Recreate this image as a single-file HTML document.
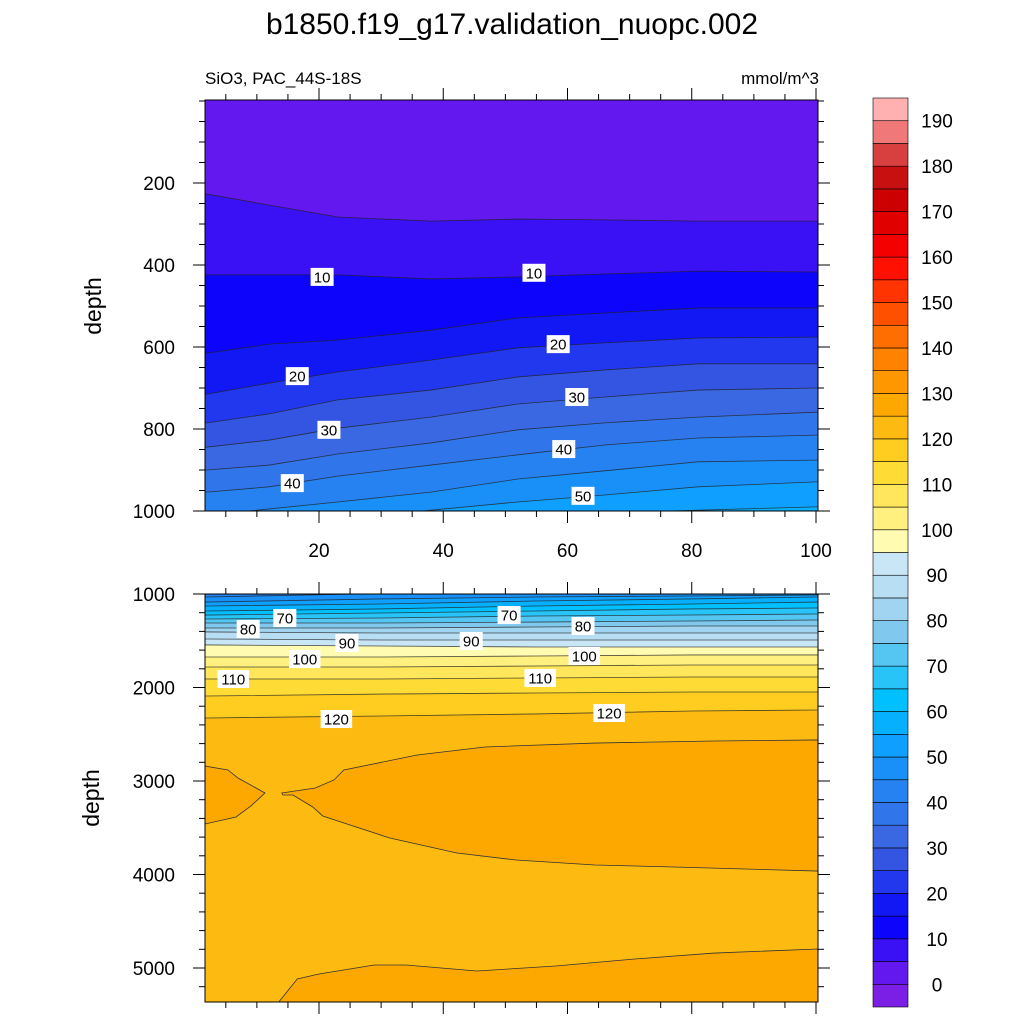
<!DOCTYPE html>
<html><head><meta charset="utf-8">
<style>
html,body{margin:0;padding:0;background:#fff;}
svg{display:block;font-family:"Liberation Sans",sans-serif;}
</style></head>
<body>
<svg id="chart" width="1024" height="1024" viewBox="0 0 1024 1024" xmlns="http://www.w3.org/2000/svg">
<text x="512" y="34" font-size="30" text-anchor="middle">b1850.f19_g17.validation_nuopc.002</text>
<text x="205" y="84" font-size="17">SiO3, PAC_44S-18S</text>
<text x="819" y="84" font-size="17" text-anchor="end">mmol/m^3</text>
<text transform="translate(101,306) rotate(-90)" font-size="23" text-anchor="middle">depth</text>
<text transform="translate(99,798) rotate(-90)" font-size="23" text-anchor="middle">depth</text>
<g id="top"></g>
<g id="bot"></g>
<g id="cbar"></g>
</svg>
<script>
const NS="http://www.w3.org/2000/svg";
const colors=["#7b1fe6","#6318f0","#3a10f5","#0c04fb","#1218f3","#2238ee","#3355e2","#3a68e2","#3075ea","#2582f0","#1890f8","#0fa0ff","#07b0ff","#00c0ff","#28c4f8","#55c5f2","#80c8ee","#a0d4f0","#b8def4","#c8e6f6","#fffbb0","#fff080","#ffe65a","#ffdc35","#ffcd20","#fdbb12","#fca800","#ff9800","#ff8200","#ff6e00","#ff5000","#ff3400","#ff1000","#f40000","#e00000","#cc0000","#c81010","#d84040","#f07878","#ffb0b0"];
const cbarLabels=[0,10,20,30,40,50,60,70,80,90,100,110,120,130,140,150,160,170,180,190];
// top panel
const topXs=[2,12,23,38,52,66,81,100];
const topLevels=[5,10,15,20,25,30,35,40,45,50,55];
const topDepths=[
[227,254,283,293,288,290,293,293],
[424,424,424,434,429,422,415,417],
[615,593,583,559,529,517,505,505],
[715,688,661,632,602,590,578,576],
[785,763,729,705,673,656,641,641],
[844,827,798,771,739,722,705,700],
[900,888,861,834,802,785,771,759],
[954,941,915,888,863,839,822,815],
[1010,995,978,954,922,902,880,876],
[1070,1046,1022,998,978,961,941,929],
[1120,1107,1090,1071,1034,1005,998,990]];
const topLabels=[["10",20.5,429],["10",54.6,419],["20",16.5,671],["20",58.5,593],["30",21.6,802],["30",61.5,722],["40",15.7,932],["40",59.4,849],["50",62.5,963]];
// bottom panel
const botXs=[2,30,55,80,100];
const botLevels=[45,50,55,60,65,70,75,80,85,90,95,100,105,110,115,120];
const botDepths=[
[1032,995,995,995,995],
[1086,1053,1032,1021,1011],
[1128,1107,1075,1053,1032],
[1182,1160,1128,1107,1086],
[1225,1203,1182,1160,1150],
[1267,1257,1235,1225,1214],
[1310,1310,1300,1289,1278],
[1364,1364,1353,1342,1342],
[1406,1417,1417,1417,1417],
[1481,1492,1492,1492,1492],
[1545,1556,1567,1567,1567],
[1674,1674,1663,1652,1652],
[1781,1781,1770,1759,1759],
[1909,1909,1898,1888,1888],
[2091,2070,2059,2048,2048],
[2326,2305,2283,2251,2241]];
const regions125=[
[[1.65,2840],[5.35,2882],[6.96,2968],[11.3,3128],[9.05,3267],[6.64,3385],[1.65,3460]],
[[14.0,3128],[19.4,3075],[22.4,2989],[24.0,2882],[35.8,2722],[46.7,2636],[64.4,2594],[83.6,2572],[100.3,2561],[100.3,3963],[77.1,3920],[64.4,3898],[51.7,3845],[42.2,3770],[31.4,3610],[25.0,3471],[20.6,3374],[19.0,3278],[15.8,3150],[14.2,3150]],
[[13.4,5374],[16.5,5118],[20.0,5064],[28.9,4968],[34.0,4968],[45.4,5032],[58.1,4979],[70.8,4904],[83.6,4840],[100.3,4797],[100.3,5374]]];
const botLabels=[["70",14.5,1257],["80",8.6,1374],["90",24.5,1524],["100",17.7,1695],["110",6.2,1909],["120",22.8,2337],["70",50.6,1225],["90",44.5,1503],["80",62.5,1342],["100",62.7,1663],["110",55.6,1898],["120",66.7,2273]];
const topTicks=[200,400,600,800,1000];
const botTicks=[1000,2000,3000,4000,5000];
const xTicks=[20,40,60,80,100];

const X=x=>194.75+6.2125*x;
const Yt=d=>101+0.41*d;
const Yb=d=>594+0.0935*(d-1000);
const L=205,R=818;
function mk(tag,attrs,parent){const e=document.createElementNS(NS,tag);for(const k in attrs)e.setAttribute(k,attrs[k]);parent.appendChild(e);return e;}
function lvlColor(l){return colors[Math.round(l/5)+1];}

function panel(g,id,top,bot,Y,xs,levels,depths,bgLevel,regions,labels,yticks,minorStep,dmin,dmax,showXLabels){
  const defs=mk('defs',{},g);
  const cp=mk('clipPath',{id:'clip'+id},defs);
  mk('rect',{x:L,y:top,width:R-L,height:bot-top},cp);
  const fg=mk('g',{'clip-path':'url(#clip'+id+')'},g);
  const bg=mk('rect',{x:L,y:top,width:R-L,height:bot-top,fill:lvlColor(bgLevel)},fg);
  
  
  levels.forEach((lv,i)=>{
    const pts=xs.map((x,j)=>[X(x),Y(depths[i][j])]);
    const ext=[[L-5,pts[0][1]],...pts,[R+5,pts[pts.length-1][1]]];
    const poly=mk('polygon',{points:ext.map(p=>p.join(',')).join(' ')+` ${R+5},${bot+5} ${L-5},${bot+5}`,fill:lvlColor(lv)},fg);
    
    
  });
  const lineEls=[];
  levels.forEach((lv,i)=>{
    const pts=xs.map((x,j)=>[X(x),Y(depths[i][j])]);
    const ext=[[L-5,pts[0][1]],...pts,[R+5,pts[pts.length-1][1]]];
    lineEls.push(ext);
  });
  if(regions){regions.forEach((r,k)=>{
    const p=mk('polygon',{points:r.map(q=>X(q[0])+','+Y(q[1])).join(' '),fill:lvlColor(125),stroke:'#333',"stroke-width":0.8},fg);
    
    
  });}
  lineEls.forEach((ext,i)=>{
    const pl=mk('polyline',{points:ext.map(p=>p.join(',')).join(' '),fill:'none',stroke:'#222',"stroke-width":0.8,"stroke-opacity":0.8},fg);
    
    
  });
  labels.forEach(lb=>{
    const cx=X(lb[1]),cy=Y(lb[2]);const w=lb[0].length*8.5+6;
    const r=mk('rect',{x:cx-w/2,y:cy-9,width:w,height:18,fill:'#fff'},g);
    
    
    const t=mk('text',{x:cx,y:cy+5.5,"font-size":15,"text-anchor":"middle"},g);
    t.textContent=lb[0];
    
    
  });
  const fr=mk('rect',{x:L,y:top,width:R-L,height:bot-top,fill:'none',stroke:'#000',"stroke-width":1},g);
  
  
  // x ticks
  for(let x=5;x<=100;x+=5){const px=X(x);const major=x%20===0;const len=major?12:6;
    mk('line',{x1:px,x2:px,y1:top,y2:top-len,stroke:'#000'},g);
    mk('line',{x1:px,x2:px,y1:bot,y2:bot+len,stroke:'#000'},g);}
  if(showXLabels){xTicks.forEach(x=>{const t=mk('text',{x:X(x),y:bot+46,"font-size":19,"text-anchor":"middle"},g);t.textContent=x;
    
    });}
  for(let d=dmin;d<=dmax;d+=minorStep){const py=Y(d);if(py<top-0.5||py>bot+0.5)continue;const major=yticks.includes(d);const len=major?12:6;
    mk('line',{x1:L,x2:L-len,y1:py,y2:py,stroke:'#000'},g);
    mk('line',{x1:R,x2:R+len,y1:py,y2:py,stroke:'#000'},g);}
  yticks.forEach(d=>{const t=mk('text',{x:175,y:Y(d)+7,"font-size":19,"text-anchor":"end"},g);t.textContent=d;
    
    });
}
panel(document.getElementById('top'),'t',100,511,Yt,topXs,topLevels,topDepths,0,null,topLabels,topTicks,50,0,1000,true);
panel(document.getElementById('bot'),'b',594,1002,Yb,botXs,botLevels,botDepths,40,regions125,botLabels,botTicks,200,1000,5400,false);

const cb=document.getElementById('cbar');
const h=909/40;
colors.forEach((c,i)=>{const r=mk('rect',{x:873,y:1007-(i+1)*h,width:35,height:h,fill:c,stroke:'#000',"stroke-width":0.6},cb);
  
  });
cbarLabels.forEach(v=>{const i=v/5+1;const t=mk('text',{x:937,y:1007-i*h+7,"font-size":19,"text-anchor":"middle"},cb);t.textContent=v;
  
  });
</script>
</body></html>
